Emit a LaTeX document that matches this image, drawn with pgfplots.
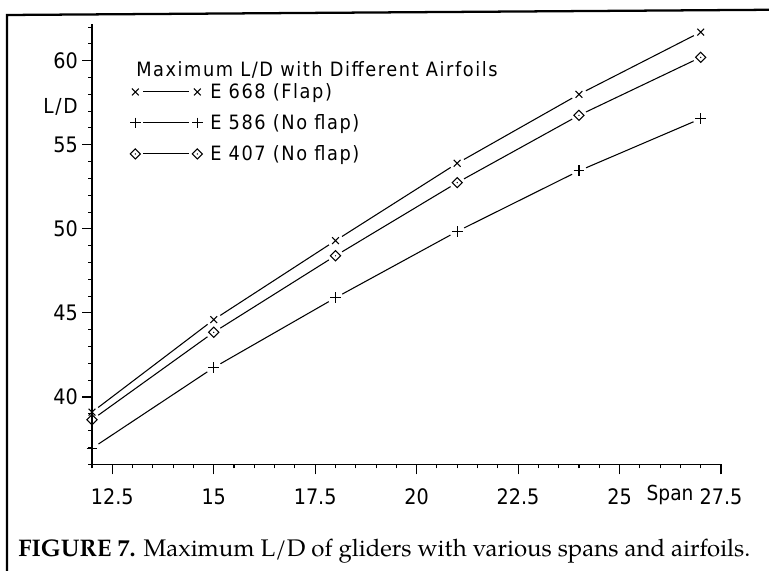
\documentclass[border=0pt]{standalone}
\usepackage{pgfplots}
\pgfplotsset{compat=1.18}
\usepackage{pgfplotstable}
\usepackage{graphicx}
\usepackage{fontspec}
\setmainfont{DejaVu Sans Condensed}
\newfontfamily\lettering{DejaVu Sans Condensed}[LetterSpace=8]
\newfontfamily\capfont{texgyrepagella}[Extension=.otf, UprightFont=*-regular, BoldFont=*-bold]

% diamond with a centre dot
\pgfdeclareplotmark{ddiamond}{%
  \pgfpathmoveto{\pgfqpoint{0pt}{\pgfplotmarksize}}%
  \pgfpathlineto{\pgfqpoint{\pgfplotmarksize}{0pt}}%
  \pgfpathlineto{\pgfqpoint{0pt}{-\pgfplotmarksize}}%
  \pgfpathlineto{\pgfqpoint{-\pgfplotmarksize}{0pt}}%
  \pgfpathclose
  \pgfusepathqstroke
  \pgfpathcircle{\pgfpointorigin}{0.55pt}%
  \pgfusepathqfill
}

% maximum L/D against span (m)
\pgfplotstableread{
span ld
12 39.1
15 44.6
18 49.3
21 53.9
24 58.0
27 61.7
}\eSixSixEight
\pgfplotstableread{
span ld
12 36.95
15 41.75
18 45.9
21 49.85
24 53.45
27 56.55
}\eFiveEightSix
\pgfplotstableread{
span ld
12 38.65
15 43.85
18 48.4
21 52.75
24 56.75
27 60.2
}\eFourZeroSeven

% joins neighbouring points of a table, one segment at a time,
% each segment stopping short of its end points
\newcommand{\segments}[1]{%
  \addplot[seg, restrict x to domain=12:15] table[x=span, y=ld] {#1};
  \addplot[seg, restrict x to domain=15:18] table[x=span, y=ld] {#1};
  \addplot[seg, restrict x to domain=18:21] table[x=span, y=ld] {#1};
  \addplot[seg, restrict x to domain=21:24] table[x=span, y=ld] {#1};
  \addplot[seg, restrict x to domain=24:27] table[x=span, y=ld] {#1};
}

\begin{document}
\begin{tikzpicture}
\useasboundingbox (0pt,0pt) rectangle (576.75pt,428.25pt);
% page frame
\draw[line width=1.7pt] (5.25pt,-8pt) -- (5.25pt,417pt) -- (590pt,421pt);
\begin{axis}[
  at={(69pt,80.03pt)}, anchor=south west,
  scale only axis, width=471.75pt, height=330.45pt,
  xmin=12, xmax=27.5, ymin=36, ymax=62.2,
  axis lines*=left, axis on top, clip=false,
  axis line style={line width=0.9pt},
  xtick={12.5,15,17.5,20,22.5,25,27.5},
  ytick={40,45,50,55,60},
  minor xtick={12,12.5,...,27.5},
  minor ytick={36,37,...,62},
  tick align=outside,
  major tick length=7.5pt, minor tick length=3pt,
  every tick/.style={black, line width=0.8pt},
  /pgf/number format/assume math mode=true,
  ticklabel style={font=\fontsize{16}{16}\selectfont},
  xticklabel style={anchor=base, yshift=-22.3pt},
  yticklabel style={anchor=east, inner sep=0pt, xshift=-3pt},
  xlabel={Span},
  xlabel style={at={(rel axis cs:0.919,0)}, anchor=base, inner sep=0pt, yshift=-27.5pt,
    font=\fontsize{15.5}{15.5}\selectfont},
  ylabel={L/D},
  ylabel style={rotate=-90, at={(rel axis cs:0,0.82)}, anchor=east, inner sep=0pt,
    xshift=-10.5pt, yshift=-3pt, font=\lettering\fontsize{15.5}{15.5}\selectfont},
  legend cell align=left,
  legend style={draw=none, fill=none, at={(rel axis cs:0.06,0.868)}, anchor=north west,
    font=\lettering\fontsize{14.8}{14.8}\selectfont, row sep=8.5pt, inner sep=0pt,
    nodes={inner sep=1pt},
    /tikz/every even column/.append style={column sep=2pt}},
  legend image code/.code={
    \draw[black, line width=0.8pt] (6pt,0pt) -- (40.5pt,0pt);
    \draw[#1] plot coordinates {(0pt,0pt) (46.5pt,0pt)};
    \path (55pt,0pt);
  },
  seg/.style={black, line width=0.8pt, mark=none, forget plot,
    shorten <=5.8pt, shorten >=5.8pt},
  sym/.style={only marks, black, mark options={line width=0.8pt, solid}},
]
% connecting lines, broken round each point
\segments{\eSixSixEight}
\segments{\eFiveEightSix}
\segments{\eFourZeroSeven}
% point symbols
\addplot[sym, mark=x, mark size=3.6pt] table[x=span, y=ld] {\eSixSixEight};
\addlegendentry{E 668 (Flap)}
\addplot[sym, mark=+, mark size=4pt] table[x=span, y=ld] {\eFiveEightSix};
\addlegendentry{E 586 (No flap)}
\addplot[sym, mark=ddiamond, mark size=3.8pt] table[x=span, y=ld] {\eFourZeroSeven};
\addlegendentry{E 407 (No flap)}
\end{axis}
\node[anchor=base west, inner sep=0pt, font=\lettering\fontsize{14.8}{14.8}\selectfont] at (102pt,370.7pt)
  {Maximum L/D with Different Airfoils};
\node[anchor=base west, inner sep=0pt] at (13.5pt,10.9pt)
  {\resizebox{549pt}{!}{\capfont\fontsize{12}{12}\selectfont\textbf{FIGURE 7.} Maximum L/D of gliders with various spans and airfoils.}};
\end{tikzpicture}
\end{document}
